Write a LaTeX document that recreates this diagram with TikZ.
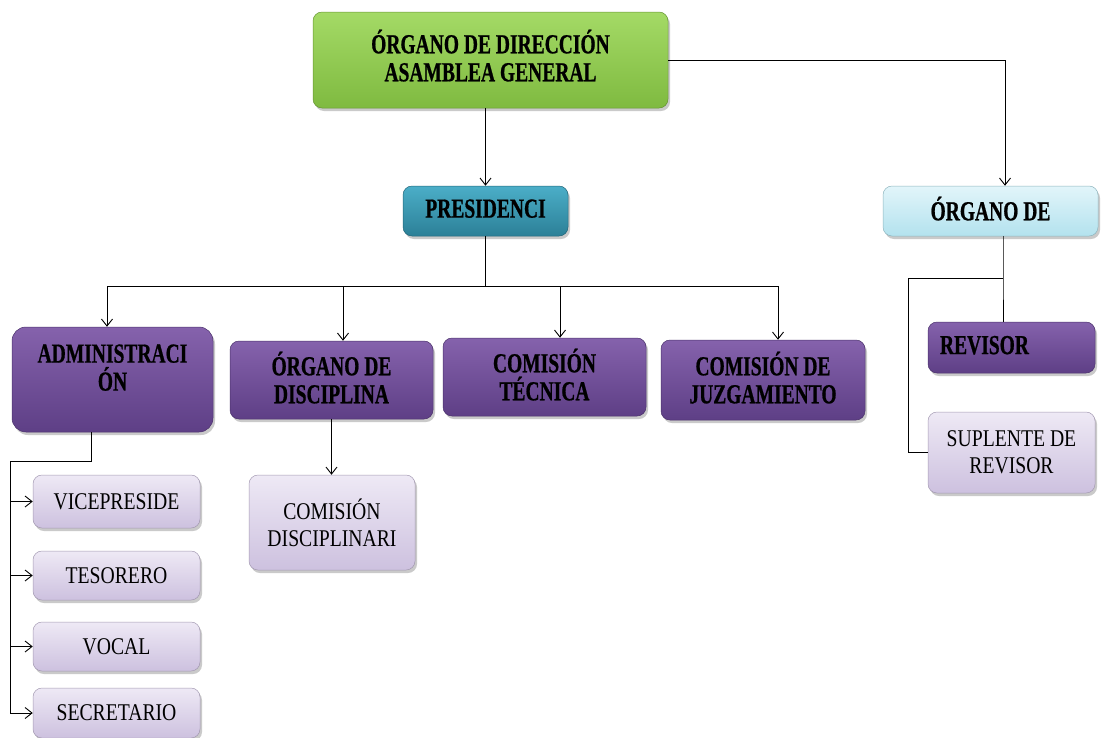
\documentclass[tikz,border=0pt]{standalone}
\usepackage{fontspec}
\setmainfont{Liberation Serif}
\newfontfamily\boldcond{Liberation Serif}[FakeStretch=0.71, FakeBold=0.7]
\newfontfamily\plaincond{Liberation Serif}[FakeStretch=0.82]
\usetikzlibrary{arrows.meta,shadows}

\definecolor{grnT}{HTML}{A4DA66}
\definecolor{grnB}{HTML}{7FBA40}
\definecolor{tealT}{HTML}{4BAEC8}
\definecolor{tealB}{HTML}{2C8097}
\definecolor{cyanT}{HTML}{E2F5FA}
\definecolor{cyanB}{HTML}{B3E2EE}
\definecolor{purT}{HTML}{8562AC}
\definecolor{purB}{HTML}{5E3F86}
\definecolor{lavT}{HTML}{EEE9F5}
\definecolor{lavB}{HTML}{CDC1DF}

\tikzset{
  x=1pt, y=-1pt,
  box/.style 2 args={top color=#1, bottom color=#2, draw=#2!80!black,
    line width=0.5pt, rounded corners=9pt, inner sep=0pt, align=center,
    drop shadow={shadow xshift=2pt, shadow yshift=-3pt, opacity=0.35, fill=black!60}},
  sz/.style 2 args={minimum width=#1, minimum height=#2},
  hd/.style={font=\boldcond\bfseries\fontsize{27.5}{28}\selectfont, text depth=5pt},
  sub/.style={font=\plaincond\fontsize{24}{27}\selectfont},
  green/.style={box={grnT}{grnB}, hd},
  teal/.style={box={tealT}{tealB}, hd},
  cyanbox/.style={box={cyanT}{cyanB}, hd},
  purple/.style={box={purT}{purB}, hd},
  lav/.style={box={lavT}{lavB}, sub},
  line/.style={draw=black, line width=0.9pt},
  arr/.style={line, -{Straight Barb[length=7pt, width=11pt, line width=0.9pt]}}
}

\begin{document}
\begin{tikzpicture}
\useasboundingbox (0,0) rectangle (1101,737);

% governing body
\node[green, sz={355pt}{96pt}, text depth=9pt] (top) at (490.5,60) {ÓRGANO DE DIRECCIÓN\\ASAMBLEA GENERAL};

% second level
\node[teal, sz={165pt}{50pt}] (pres) at (485.5,211) {PRESIDENCI};
\node[cyanbox, sz={215pt}{50pt}] (org) at (990.5,211) {ÓRGANO DE};

% boxes under the presidency
\node[purple, sz={201pt}{105pt}, rounded corners=14pt] (adm) at (112.5,379.5) {};
\node[hd, align=center, inner sep=0pt] (admtext) at (112.5,370) {ADMINISTRACI\\ÓN};
\node[purple, sz={203pt}{78pt}] (disc) at (331.5,380) {ÓRGANO DE\\DISCIPLINA};
\node[purple, sz={203pt}{78pt}] (tec) at (544.5,377) {COMISIÓN\\TÉCNICA};
\node[purple, sz={204pt}{80pt}] (juz) at (763,380) {COMISIÓN DE\\JUZGAMIENTO};

% control body
\node[purple, sz={167pt}{51pt}, text width=143pt, align=left] (rev) at (1011.5,347.5) {REVISOR};
\node[lav, sz={167pt}{81pt}] (sup) at (1011.5,452.5) {SUPLENTE DE\\REVISOR};

% administration members
\node[lav, sz={167pt}{53pt}] (vice) at (116.5,501.5) {VICEPRESIDE};
\node[lav, sz={167pt}{49pt}] (tes) at (116.5,575.5) {TESORERO};
\node[lav, sz={167pt}{49pt}] (voc) at (116.5,646.5) {VOCAL};
\node[lav, sz={167pt}{50pt}] (sec) at (116.5,713) {SECRETARIO};

% disciplinary commission
\node[lav, sz={166pt}{95pt}] (cdis) at (332,522.5) {COMISIÓN\\DISCIPLINARI};

% connectors from the assembly
\draw[arr] (pres.north |- top.south) -- (pres.north);
\coordinate (tr) at ([xshift=14.5pt]org.north |- top.east);
\draw[line] (top.east) -- (tr);
\draw[arr] (tr) -- ([xshift=14.5pt]org.north);

% presidency bus
\coordinate (bus) at (485.5,286);
\coordinate (a1) at ([xshift=-5.5pt]adm.north);
\coordinate (a2) at ([xshift=11.5pt]disc.north);
\coordinate (a3) at ([xshift=15.5pt]tec.north);
\coordinate (a4) at ([xshift=15pt]juz.north);
\draw[line] (pres.south) -- (bus);
\draw[line] (bus -| a1) -- (bus -| a4);
\draw[arr] (bus -| a1) -- (a1);
\draw[arr] (bus -| a2) -- (a2);
\draw[arr] (bus -| a3) -- (a3);
\draw[arr] (bus -| a4) -- (a4);

% administration branch
\coordinate (ad) at ([xshift=-21.5pt]adm.south);
\coordinate (adml) at (10,461);
\draw[line] (ad) -- (ad |- adml) -- (adml) -- (adml |- sec.west);
\draw[arr] (adml |- vice.west) -- (vice.west);
\draw[arr] (adml |- tes.west) -- (tes.west);
\draw[arr] (adml |- voc.west) -- (voc.west);
\draw[arr] (adml |- sec.west) -- (sec.west);

% discipline branch
\draw[arr] (disc.south) -- (disc.south |- cdis.north);

% control branch
\coordinate (od) at ([xshift=12.5pt]org.south);
\coordinate (oj) at (1003,278);
\coordinate (sl) at (908,278);
\draw[line] (od) -- (oj) -- (oj |- rev.north);
\draw[line] (oj) -- (sl) |- (sup.west);
\end{tikzpicture}
\end{document}
